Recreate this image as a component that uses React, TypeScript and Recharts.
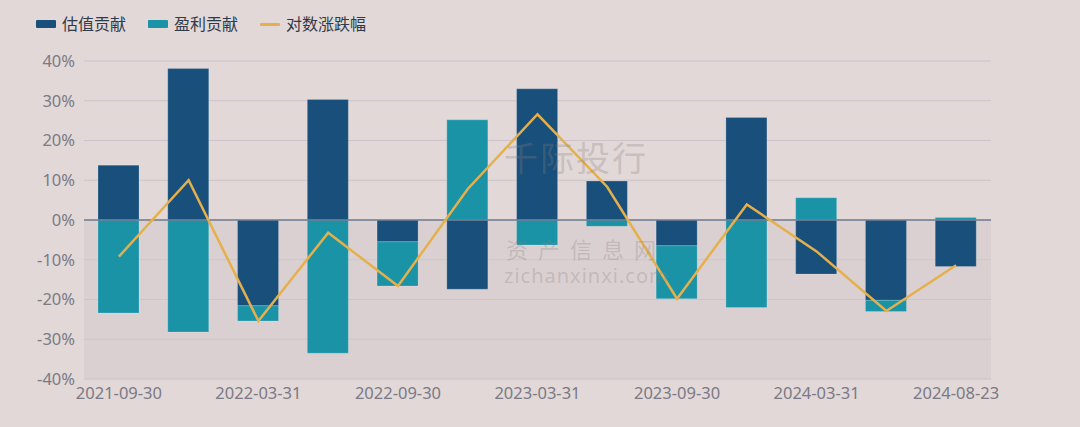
import React from "react"
import {
  ComposedChart,
  Bar,
  Line,
  XAxis,
  YAxis,
  CartesianGrid,
  ReferenceLine,
  ReferenceArea,
} from "recharts"

// 季度末日期（最后一个是区间截止日）
const dates = [
  "2021-09-30", "2021-12-31", "2022-03-31", "2022-06-30", "2022-09-30",
  "2022-12-31", "2023-03-31", "2023-06-30", "2023-09-30", "2023-12-31",
  "2024-03-31", "2024-06-30", "2024-08-23",
]
// 估值贡献 (%)
const valuation = [13.8, 38.1, -21.6, 30.3, -5.5, -17.4, 33.0, 9.8, -6.5, 25.8, -13.6, -20.2, -11.7]
// 盈利贡献 (%)
const earnings = [-23.4, -28.2, -3.8, -33.5, -11.1, 25.2, -6.3, -1.6, -13.3, -22.0, 5.6, -2.8, 0.6]
// 对数涨跌幅 (%)
const logReturn = [-9.2, 10.0, -25.4, -3.2, -16.6, 7.8, 26.6, 8.3, -19.8, 3.9, -7.9, -22.9, -11.4]
const yTicks = [-40, -30, -20, -10, 0, 10, 20, 30, 40]

const DARK = "#184f7b"
const TEAL = "#1a93a6"
const GOLD = "#e5b04c"
const FONT = "'Noto Sans', 'Noto Sans CJK SC', sans-serif"

const data = dates.map((d, i) => ({
  date: d,
  valuation: valuation[i],
  earnings: earnings[i],
  logReturn: logReturn[i],
}))

const pct = (v: number) => `${v}%`

const legendItems = [
  { label: "估值贡献", color: DARK, type: "rect" },
  { label: "盈利贡献", color: TEAL, type: "rect" },
  { label: "对数涨跌幅", color: GOLD, type: "line" },
]

export default function App() {
  const tick = { fill: "#7b7a86", fontSize: 16.5, fontFamily: FONT }
  const wm = { position: "absolute" as const, color: "rgba(140,128,128,0.3)", pointerEvents: "none" as const }
  return (
    <div
      style={{
        position: "absolute",
        left: 0,
        top: 0,
        width: 1080,
        height: 427,
        background: "#e1d8d7",
        fontFamily: FONT,
        overflow: "hidden",
      }}
    >
      {/* 图例 */}
      <div style={{ position: "absolute", left: 36, top: 12, display: "flex", alignItems: "center" }}>
        {legendItems.map((it) => (
          <div key={it.label} style={{ display: "flex", alignItems: "center", marginRight: 22 }}>
            <span
              style={{
                display: "inline-block",
                width: 20,
                height: it.type === "rect" ? 8 : 3,
                borderRadius: 1,
                background: it.color,
                marginRight: 6,
              }}
            />
            <span style={{ fontSize: 16, color: "#2f3a4a", lineHeight: "24px" }}>{it.label}</span>
          </div>
        ))}
      </div>

      <ComposedChart
        width={1080}
        height={427}
        data={data}
        stackOffset="sign"
        barSize={41}
        margin={{ top: 61, right: 0, bottom: 18, left: 0 }}
        style={{ position: "absolute", left: 0, top: 0 }}
      >
        <ReferenceArea yAxisId="left" y1={-40} y2={0} fill="#d3c8c9" fillOpacity={0.45} stroke="none" />
        <CartesianGrid yAxisId="left" vertical={false} stroke="#cbc2cc" strokeWidth={1} />
        <XAxis
          dataKey="date"
          interval={1}
          axisLine={false}
          tickLine={false}
          tick={tick}
          tickMargin={2}
          height={30}
        />
        <YAxis
          yAxisId="left"
          domain={[-40, 40]}
          ticks={yTicks}
          tickFormatter={pct}
          axisLine={false}
          tickLine={false}
          tick={tick}
          tickMargin={3}
          width={84}
        />
        <YAxis
          yAxisId="right"
          orientation="right"
          domain={[-40, 40]}
          ticks={yTicks}
          tickFormatter={pct}
          axisLine={false}
          tickLine={false}
          tick={{ ...tick, textAnchor: "start" }}
          tickMargin={3}
          width={89}
        />
        <Bar yAxisId="left" dataKey="valuation" stackId="a" fill={DARK} stroke="rgba(255,255,255,0.18)" isAnimationActive={false} />
        <Bar yAxisId="left" dataKey="earnings" stackId="a" fill={TEAL} stroke="rgba(255,255,255,0.18)" isAnimationActive={false} />
        <ReferenceLine yAxisId="left" y={0} stroke="#6c7c92" strokeWidth={1.5} />
        <Line
          yAxisId="left"
          type="linear"
          dataKey="logReturn"
          stroke={GOLD}
          strokeWidth={2.5}
          dot={false}
          activeDot={false}
          isAnimationActive={false}
        />
      </ComposedChart>

      {/* 水印 */}
      <div style={{ ...wm, left: 504, top: 132, fontSize: 34, letterSpacing: 2 }}>千际投行</div>
      <div style={{ ...wm, left: 506, top: 232, fontSize: 22, letterSpacing: 10 }}>资产信息网</div>
      <div style={{ ...wm, left: 504, top: 262, fontSize: 20, letterSpacing: 1 }}>zichanxinxi.com</div>
    </div>
  )
}
